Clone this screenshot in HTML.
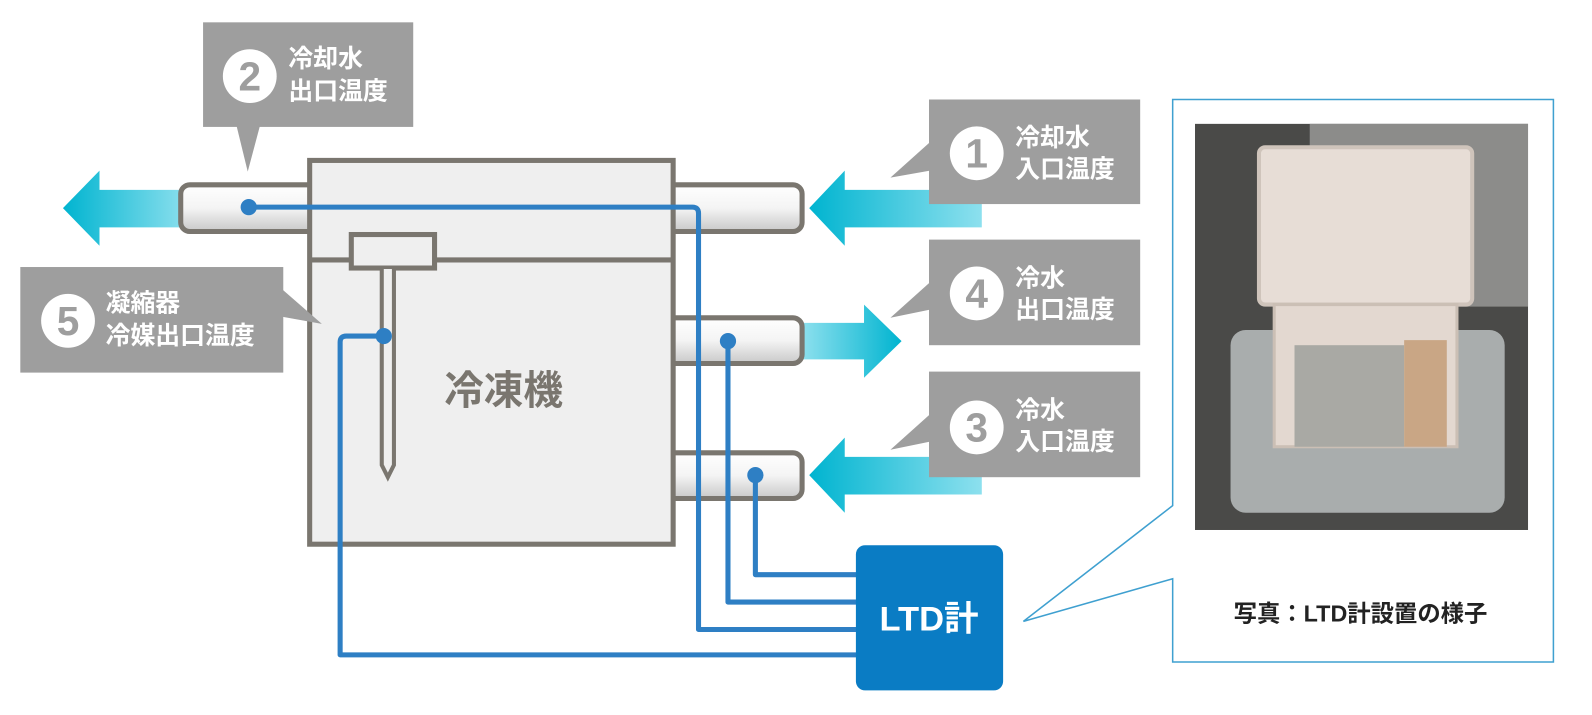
<!DOCTYPE html><html><head><meta charset="utf-8"><style>body{margin:0;background:#fff}svg{display:block}text{font-family:"Liberation Sans","Noto Sans CJK JP",sans-serif;font-weight:bold}</style></head><body>
<svg width="1592" height="715" viewBox="0 0 1592 715">
<defs>
<linearGradient id="gl" x1="0" x2="1"><stop offset="0" stop-color="#00b4d0"/><stop offset="1" stop-color="#8de0ee"/></linearGradient>
<linearGradient id="gr" x1="1" x2="0"><stop offset="0" stop-color="#00b4d0"/><stop offset="1" stop-color="#8de0ee"/></linearGradient>
<linearGradient id="pipe" x1="0" y1="0" x2="0" y2="1"><stop offset="0" stop-color="#fff"/><stop offset="0.5" stop-color="#f4f4f4"/><stop offset="1" stop-color="#c8c8c8"/></linearGradient>
</defs>
<g transform="scale(1.0153)">
<path d="M62,205 L98,168 L98,187 L185,187 L185,224 L98,224 L98,242 Z" fill="url(#gl)"/>
<path d="M797,205 L832,168 L832,187 L967,187 L967,224 L832,224 L832,242 Z" fill="url(#gl)"/>
<path d="M797,468 L832,431 L832,450 L967,450 L967,487 L832,487 L832,505 Z" fill="url(#gl)"/>
<path d="M888,336 L851,300 L851,318 L790,318 L790,354 L851,354 L851,372 Z" fill="url(#gr)"/>
<g stroke="#7a766f" stroke-width="5" fill="url(#pipe)">
<rect x="178" y="182" width="140" height="46" rx="9"/>
<rect x="650" y="182" width="140" height="46" rx="9"/>
<rect x="650" y="313" width="140" height="45" rx="9"/>
<rect x="650" y="446" width="140" height="45" rx="9"/>
</g>
<rect x="305" y="158" width="358" height="378" fill="#efefef" stroke="#7a766f" stroke-width="5"/>
<line x1="305" y1="256" x2="663" y2="256" stroke="#7a766f" stroke-width="5"/>
<rect x="346" y="231" width="82" height="33" fill="#efefef" stroke="#7a766f" stroke-width="5"/>
<path d="M376,265 L376,458 L382,470 L388,458 L388,265" fill="#efefef" stroke="#7a766f" stroke-width="4"/>
<text x="496" y="398" font-size="39" fill="#7a766f" text-anchor="middle">冷凍機</text>
<g stroke="#2e7fc4" stroke-width="5" fill="none" stroke-linejoin="round">
<path d="M245,204 H682 Q688,204 688,210 V620 H845"/>
<path d="M717,335 V593 H845"/>
<path d="M744,468 V566 H845"/>
<path d="M378,331 H341 Q335,331 335,337 V645 H845"/>
</g>
<g fill="#2e7fc4"><circle cx="245" cy="204" r="8"/><circle cx="717" cy="336" r="8"/><circle cx="744" cy="468" r="8"/><circle cx="378" cy="331" r="8"/></g>
<rect x="843" y="537" width="145" height="143" rx="9" fill="#0a7cc4"/>
<text x="915" y="621" font-size="34" fill="#fff" text-anchor="middle">LTD計</text>
<g fill="#9e9e9e">
<rect x="200" y="22" width="207" height="103"/><path d="M233,124 L256,124 L244,169 Z"/>
<rect x="20" y="263" width="259" height="104"/><path d="M278,285 L278,312 L317,319 Z"/>
<rect x="915" y="98" width="208" height="103"/><path d="M916,140 L916,168 L877,175 Z"/>
<rect x="915" y="236" width="208" height="104"/><path d="M916,278 L916,305 L877,313 Z"/>
<rect x="915" y="366" width="208" height="104"/><path d="M916,408 L916,435 L877,443 Z"/>
</g>
<g fill="#fff"><circle cx="246" cy="75" r="26.5"/><circle cx="67" cy="316" r="26.5"/><circle cx="962" cy="151" r="26.5"/><circle cx="962" cy="289" r="26.5"/><circle cx="962" cy="421" r="26.5"/></g>
<g fill="#9e9e9e" font-size="40" text-anchor="middle">
<text x="246" y="89">2</text><text x="67" y="330">5</text><text x="962" y="165">1</text><text x="962" y="303">4</text><text x="962" y="435">3</text></g>
<g fill="#fff" font-size="24.5">
<text x="284" y="66">冷却水</text><text x="284" y="98">出口温度</text>
<text x="104" y="307">凝縮器</text><text x="104" y="339">冷媒出口温度</text>
<text x="1000" y="144">冷却水</text><text x="1000" y="175">入口温度</text>
<text x="1000" y="282">冷水</text><text x="1000" y="313">出口温度</text>
<text x="1000" y="412">冷水</text><text x="1000" y="443">入口温度</text>
</g>
<path d="M1155,498 L1155,98 L1530,98 L1530,652 L1155,652 L1155,570 L1008,612 Z" fill="#fff" stroke="#3fa0d0" stroke-width="1.5"/>
<rect x="1177" y="122" width="328" height="400" fill="#4a4a48"/>
<rect x="1290" y="122" width="215" height="180" fill="#8c8c8a"/>
<rect x="1212" y="325" width="270" height="180" rx="15" fill="#a9adad"/>
<rect x="1240" y="145" width="210" height="155" rx="6" fill="#e7ddd6" stroke="#cfc4bb" stroke-width="4"/>
<rect x="1255" y="300" width="180" height="140" fill="#e3d8d0" stroke="#cbbfb5" stroke-width="3"/>
<rect x="1275" y="340" width="108" height="100" fill="#a9a9a4"/>
<rect x="1383" y="335" width="42" height="105" fill="#c9a685"/>
<text x="1340" y="612" font-size="23" fill="#222" text-anchor="middle">写真：LTD計設置の様子</text>
</g>
</svg></body></html>
